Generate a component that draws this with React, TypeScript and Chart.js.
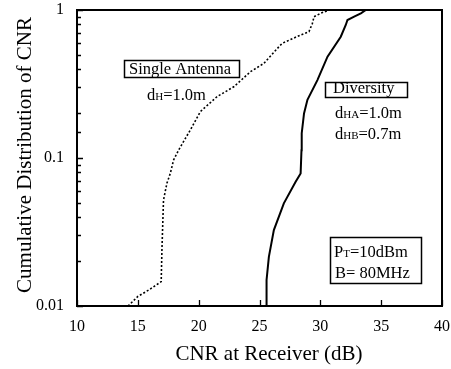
import React, { useEffect, useRef } from "react";
import { Chart, registerables } from "chart.js";
Chart.register(...registerables);

const xTickValues = [10, 15, 20, 25, 30, 35, 40];
const yTickLabels = ["0.01", "0.1", "1"];

const singleX = [14.2, 15.0, 15.88, 16.92, 16.98, 17.11, 17.39, 17.67, 17.94, 18.35, 19.32, 20.14, 21.52, 22.89, 24.26, 25.36, 26.6, 26.88, 28.38, 29.07, 29.35, 29.48, 30.03, 30.72];
const singleY = [0.01, 0.0116, 0.0128, 0.0146, 0.0239, 0.052, 0.0675, 0.0788, 0.097, 0.113, 0.155, 0.206, 0.26, 0.303, 0.383, 0.436, 0.565, 0.596, 0.678, 0.714, 0.813, 0.901, 0.95, 1.0];

const divX = [25.58, 25.58, 25.77, 26.18, 27.0, 27.97, 28.38, 28.45, 28.47, 28.66, 28.94, 29.76, 30.59, 31.68, 32.09, 32.23, 32.78, 33.33, 33.74];
const divY = [0.01, 0.015, 0.0215, 0.0326, 0.0494, 0.069, 0.0787, 0.113, 0.147, 0.2, 0.247, 0.336, 0.484, 0.66, 0.792, 0.856, 0.901, 0.95, 1.0];

const FONT = "'Liberation Serif', 'Times New Roman', serif";

type Part = [string, number];

function drawRich(c: CanvasRenderingContext2D, parts: Part[], x: number, y: number) {
  let cx = x;
  for (const [t, s] of parts) {
    c.font = `${s}px ${FONT}`;
    c.fillText(t, cx, y);
    cx += c.measureText(t).width;
  }
}

export default function App() {
  const ref = useRef<HTMLCanvasElement>(null);
  useEffect(() => {
    const canvas = ref.current!;
    const framePlugin = {
      id: "frame",
      afterDraw(chart: any) {
        const c: CanvasRenderingContext2D = chart.ctx;
        const a = chart.chartArea;
        const xs = chart.scales.x;
        const ys = chart.scales.y;
        c.save();
        c.strokeStyle = "#000";
        c.lineWidth = 2;
        c.strokeRect(a.left, a.top, a.right - a.left, a.bottom - a.top);
        c.lineWidth = 1.3;
        c.beginPath();
        ys.ticks.forEach((t: any) => {
          const v = t.value;
          const lg = Math.log10(v);
          const major = Math.abs(lg - Math.round(lg)) < 1e-6;
          const py = Math.round(ys.getPixelForValue(v)) + 0.5;
          c.moveTo(a.left, py);
          c.lineTo(a.left + (major ? 6 : 4), py);
        });
        xs.ticks.forEach((t: any) => {
          const px = Math.round(xs.getPixelForValue(t.value)) + 0.5;
          c.moveTo(px, a.bottom);
          c.lineTo(px, a.bottom - 6);
        });
        c.stroke();

        // axis titles
        c.fillStyle = "#000";
        c.font = `21px ${FONT}`;
        c.textAlign = "center";
        c.textBaseline = "alphabetic";
        c.fillText("CNR at Receiver (dB)", 269, 360);
        c.save();
        c.translate(31, 155);
        c.rotate(-Math.PI / 2);
        c.fillText("Cumulative Distribution of CNR", 0, 0);
        c.restore();

        // annotations
        c.textAlign = "left";
        c.lineWidth = 1.5;
        c.strokeRect(124.5, 60.5, 115, 17);
        drawRich(c, [["Single Antenna", 16.5]], 129, 74);
        drawRich(c, [["d", 16.5], ["H", 11], ["=1.0m", 16.5]], 147, 100);

        c.strokeRect(325.5, 82.5, 82, 15);
        drawRich(c, [["Diversity", 16.5]], 333, 93);
        drawRich(c, [["d", 16.5], ["HA", 11], ["=1.0m", 16.5]], 335, 118);
        drawRich(c, [["d", 16.5], ["HB", 11], ["=0.7m", 16.5]], 335, 139);

        c.strokeRect(330.5, 237.5, 91, 46);
        drawRich(c, [["P", 16.5], ["T", 11], ["=10dBm", 16.5]], 334, 257);
        drawRich(c, [["B= 80MHz", 16.5]], 335, 278);
        c.restore();
      },
    };

    const chart = new Chart(canvas, {
      type: "scatter",
      data: {
        datasets: [
          {
            label: "Single Antenna",
            data: singleX.map((x, i) => ({ x, y: singleY[i] })),
            showLine: true,
            borderColor: "#000",
            borderWidth: 1.6,
            borderDash: [2, 2],
            pointRadius: 0,
            fill: false,
          },
          {
            label: "Diversity",
            data: divX.map((x, i) => ({ x, y: divY[i] })),
            showLine: true,
            borderColor: "#000",
            borderWidth: 2,
            pointRadius: 0,
            fill: false,
          },
        ],
      },
      options: {
        responsive: false,
        animation: false,
        events: [],
        layout: { padding: { top: 10, right: 9, left: 0, bottom: 0 } },
        plugins: { legend: { display: false }, tooltip: { enabled: false } },
        scales: {
          x: {
            type: "linear",
            min: 10,
            max: 40,
            afterBuildTicks: (s: any) => {
              s.ticks = xTickValues.map((v) => ({ value: v }));
            },
            grid: { display: false, drawTicks: false },
            border: { display: false },
            ticks: {
              padding: 11,
              color: "#000",
              font: { family: FONT, size: 16 },
              maxRotation: 0,
              autoSkip: false,
            },
            afterFit: (s: any) => {
              s.height = 63;
              s.paddingLeft = 0;
              s.paddingRight = 0;
            },
          },
          y: {
            type: "logarithmic",
            min: 0.01,
            max: 1,
            grid: { display: false, drawTicks: false },
            border: { display: false },
            ticks: {
              padding: 13,
              color: "#000",
              autoSkip: false,
              font: { family: FONT, size: 16 },
              callback: (v: any) => {
                const lg = Math.log10(Number(v));
                if (Math.abs(lg - Math.round(lg)) < 1e-6) {
                  return yTickLabels[Math.round(lg) + 2];
                }
                return "";
              },
            },
            afterFit: (s: any) => {
              s.width = 77;
              s.paddingTop = 0;
              s.paddingBottom = 0;
            },
          },
        },
      },
      plugins: [framePlugin],
    });
    return () => chart.destroy();
  }, []);

  return (
    <canvas
      ref={ref}
      width={451}
      height={369}
      style={{ position: "absolute", left: 0, top: 0, width: 451, height: 369, background: "#fff" }}
    />
  );
}
